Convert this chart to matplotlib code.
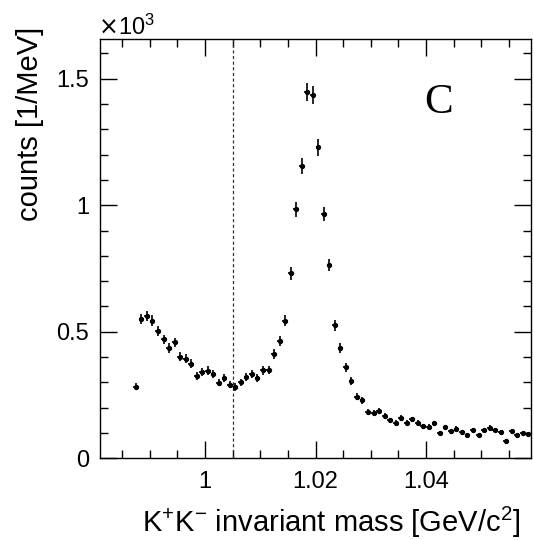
import matplotlib.pyplot as plt
from matplotlib.ticker import MultipleLocator

plt.rcParams['font.family'] = ['Liberation Sans', 'DejaVu Sans']
plt.rcParams['mathtext.fontset'] = 'custom'
plt.rcParams['mathtext.rm'] = 'Liberation Sans'
plt.rcParams['mathtext.it'] = 'Liberation Sans:italic'

# bin centres of the K+K- mass histogram [GeV/c^2], 1 MeV bins
mass = [0.9875 + 0.001 * i for i in range(72)]

# counts per MeV
counts = [283, 551, 562, 544, 504, 470, 436, 458, 402, 394,
          374, 327, 341, 346, 332, 299, 316, 291, 281, 300,
          320, 333, 317, 348, 349, 412, 464, 544, 731, 984,
          1155, 1447, 1436, 1229, 966, 764, 526, 435, 360, 307,
          244, 230, 184, 180, 188, 168, 150, 141, 160, 141,
          154, 141, 126, 124, 138, 100, 123, 107, 116, 103,
          91, 111, 92, 111, 121, 112, 103, 67, 107, 91,
          100, 95]

errors = [15, 21, 21, 21, 20, 19, 19, 19, 18, 18,
          17, 16, 17, 17, 16, 15, 16, 15, 15, 15,
          16, 16, 16, 17, 17, 18, 19, 21, 25, 29,
          31, 36, 36, 33, 29, 25, 21, 19, 17, 16,
          14, 14, 12, 12, 12, 12, 11, 11, 11, 11,
          11, 11, 10, 10, 10, 9, 10, 9, 10, 9,
          9, 9, 9, 9, 10, 9, 9, 8, 9, 9,
          9, 9]

cut_mass = 1.005

fig = plt.figure(figsize=(5.34, 5.40), dpi=100)
ax = fig.add_axes([100 / 534, 1 - 458.3 / 540, 431 / 534, 419.3 / 540])

ax.errorbar(mass, counts, yerr=errors, xerr=0.0005, fmt='o', color='black',
            markersize=2.8, elinewidth=1.2, capsize=0)

# dashed cut line
ax.axvline(cut_mass, color='#333333', linestyle=(0, (2.5, 2)), linewidth=0.9)

ax.set_xlim(0.981, 1.059)
ax.set_ylim(0, 1657)

ax.set_xticks([1.0, 1.02, 1.04])
ax.set_xticklabels(['1', '1.02', '1.04'])
ax.xaxis.set_minor_locator(MultipleLocator(0.005))
ax.set_yticks([0, 500, 1000, 1500])
ax.set_yticklabels(['0', '0.5', '1', '1.5'])
ax.yaxis.set_minor_locator(MultipleLocator(100))

ax.tick_params(which='both', direction='in', top=True, right=True, labelsize=17)
ax.tick_params(which='major', length=12, width=1)
ax.tick_params(which='minor', length=6, width=1)
ax.tick_params(axis='x', which='major', pad=9)
ax.tick_params(axis='y', which='major', pad=8)
for s in ax.spines.values():
    s.set_linewidth(1)

# exponent label, ROOT style
fig.text(99 / 534, 1 - 35 / 540, '\u00d7', fontsize=17, family='DejaVu Sans',
         ha='left', va='baseline')
fig.text(117.5 / 534, 1 - 35 / 540, '10$^{3}$', fontsize=17,
         ha='left', va='baseline')
fig.text(520 / 534, 1 - 522 / 540, 'K$^{+}$K$^{\u2212}$ invariant mass [GeV/c$^{2}$]',
         fontsize=21, ha='right', va='center')
fig.text(30 / 534, 1 - 27 / 540, 'counts [1/MeV]', fontsize=21,
         rotation=90, ha='center', va='top')
fig.text(439 / 534, 1 - 102.5 / 540, 'C', fontsize=31, family='Liberation Serif',
         ha='center', va='center')

plt.savefig('out.png', dpi=100)
